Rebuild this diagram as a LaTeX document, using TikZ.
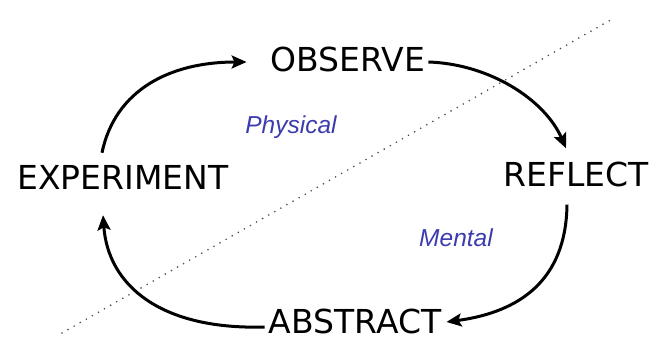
\documentclass[tikz,border=0pt]{standalone}
\usepackage{fontspec}
\setmainfont{DejaVu Sans}
\newfontfamily\labfont{Liberation Sans}
\usetikzlibrary{arrows.meta,calc}
\definecolor{labblue}{RGB}{60,60,175}
\begin{document}
\begin{tikzpicture}[x=1pt,y=-1pt,
  stage/.style={inner sep=0pt, font=\fontsize{33}{36}\selectfont},
  zone/.style={inner sep=0pt, text=labblue, font=\labfont\itshape\fontsize{24.5}{27}\selectfont},
  cyc/.style={line width=3pt, -{Stealth[length=15pt,width=13pt,inset=3pt]}},
  divider/.style={black!70, line width=1.8pt, dash pattern=on 0pt off 7pt, line cap=round}]
\useasboundingbox[fill=white] (0,0) rectangle (651,340);
\coordinate (d1) at (62,333);
\coordinate (d2) at (614,18);
\draw[divider] (d1) -- (d2);
\node[stage] (obs) at (348,59) {OBSERVE};
\node[stage] (exp) at (123,177) {EXPERIMENT};
\node[stage] (ref) at (576,174) {REFLECT};
\node[stage] (abs) at (355,321) {ABSTRACT};
\node[zone] (phy) at (291,127) {Physical};
\node[zone] (men) at (456,238) {Mental};
\draw[cyc] ($(exp.north)+(-21,-12)$) .. controls (115,90) and (170,62) .. ($(obs.west)+(-24,3)$);
\draw[cyc] ($(obs.east)+(3,3)$) .. controls (490,64) and (545,100) .. ($(ref.north)+(-10,-13)$);
\draw[cyc] ($(ref.south)+(-9,18)$) .. controls (566,280) and (520,312) .. ($(abs.east)+(5,1)$);
\draw[cyc] ($(abs.west)+(-4,6)$) .. controls (160,330) and (108,285) .. ($(exp.south)+(-20,26)$);
\end{tikzpicture}
\end{document}
